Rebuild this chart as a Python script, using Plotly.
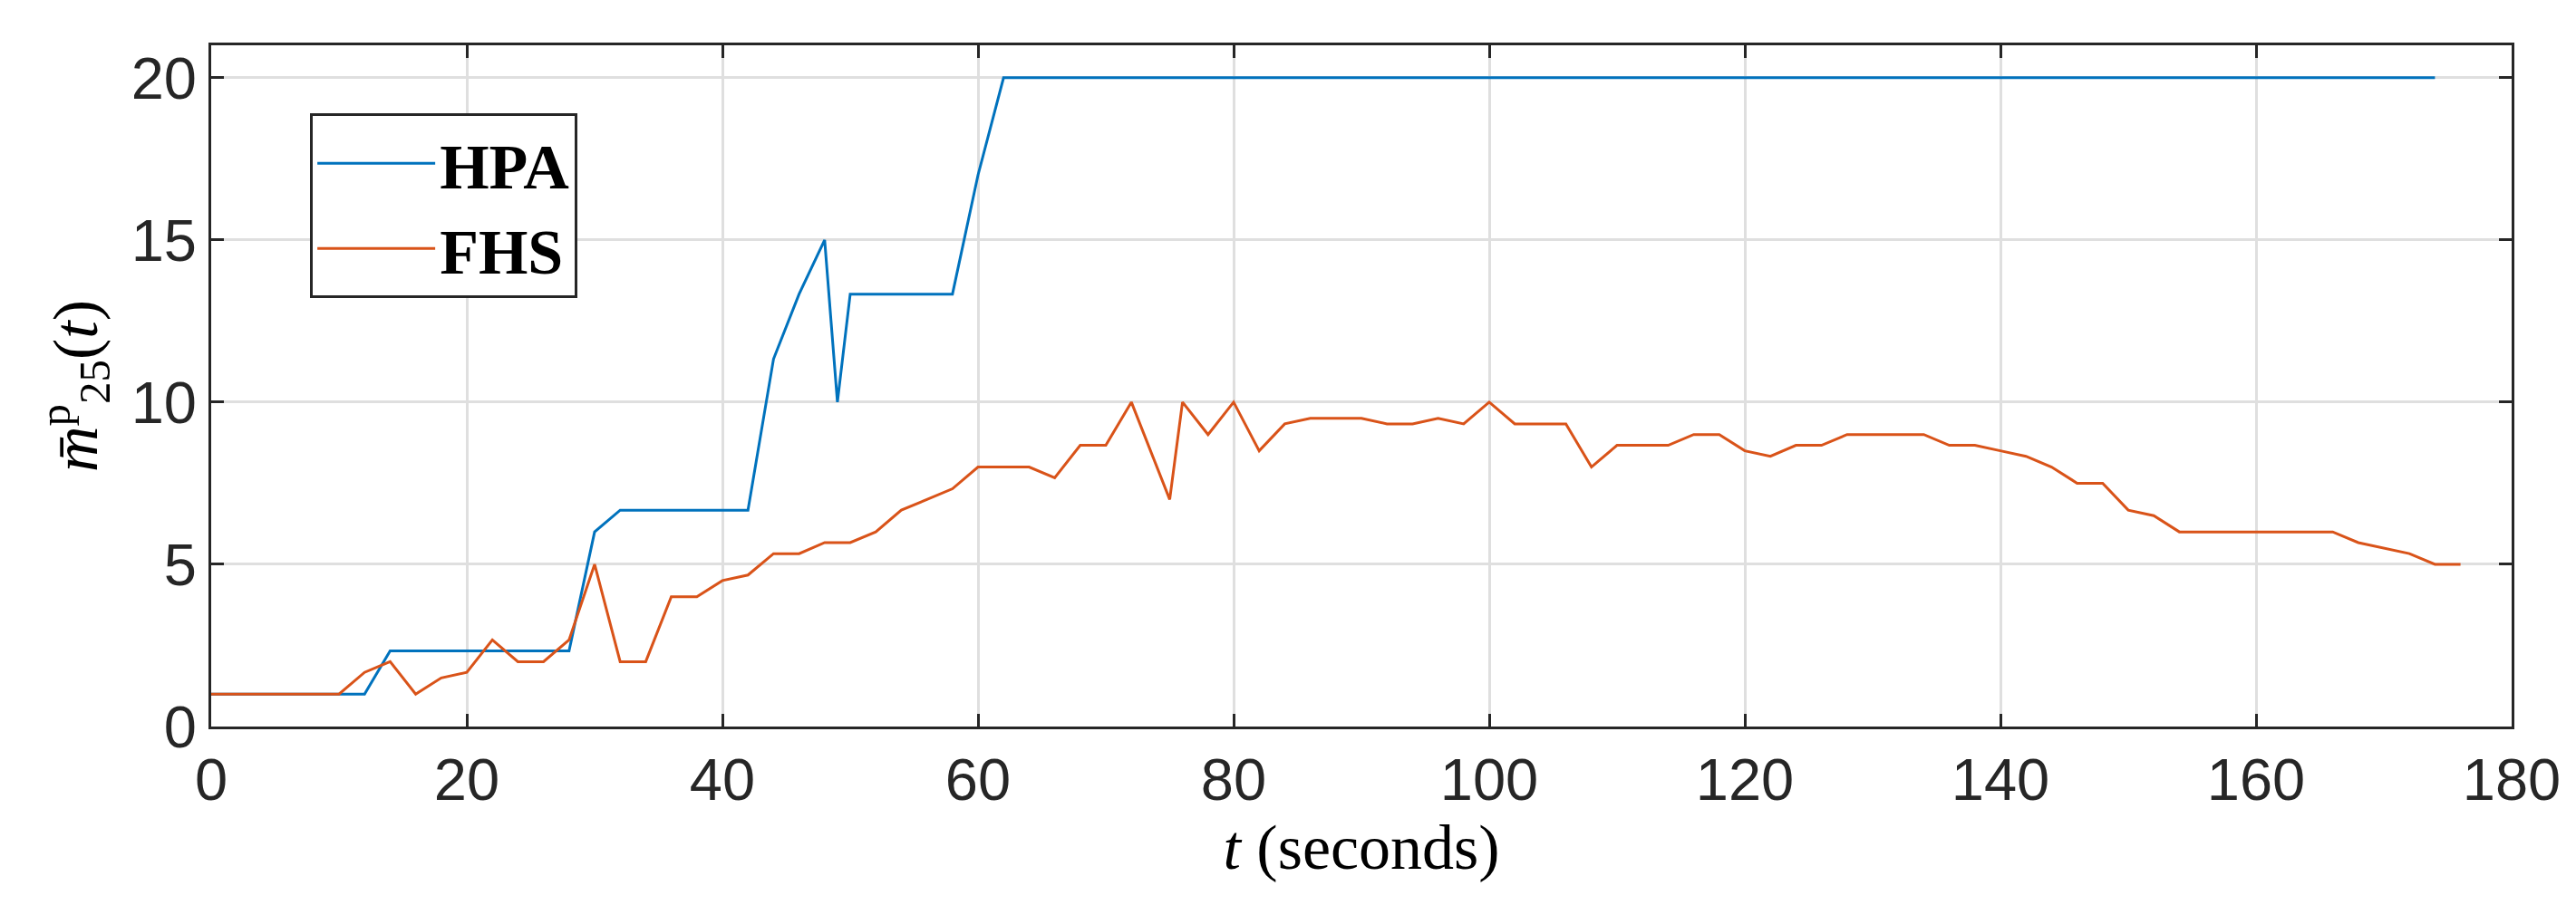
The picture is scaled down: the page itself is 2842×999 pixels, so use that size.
import plotly.graph_objects as go

hpa_t = [0,2,4,6,8,10,12,14,16,18,20,22,24,26,28,30,32,34,36,38,40,42,44,46,48,49,50,52,54,56,58,60,62,70,80,90,100,110,120,130,140,150,160,170,174]
hpa_v = [1,1,1,1,1,1,1,2.33,2.33,2.33,2.33,2.33,2.33,2.33,2.33,6,6.67,6.67,6.67,6.67,6.67,6.67,11.33,13.33,15,10,13.33,13.33,13.33,13.33,13.33,17,20,20,20,20,20,20,20,20,20,20,20,20,20]

fhs_t = [0,2,4,6,8,10,12,14,16,18,20,22,24,26,28,30,32,34,36,38,40,42,44,46,48,50,52,54,56,58,60,62,64,66,68,70,72,75,76,78,80,82,84,86,88,90,92,94,96,98,100,102,104,106,108,110,112,114,116,118,120,122,124,126,128,130,132,134,136,138,140,142,144,146,148,150,152,154,156,158,160,162,164,166,168,170,172,174,176]
fhs_v = [1,1,1,1,1,1,1.67,2,1,1.5,1.67,2.67,2,2,2.67,5,2,2,4,4,4.5,4.67,5.33,5.33,5.67,5.67,6,6.67,7,7.33,8,8,8,7.67,8.67,8.67,10,7,10,9,10,8.5,9.33,9.5,9.5,9.5,9.33,9.33,9.5,9.33,10,9.33,9.33,9.33,8,8.67,8.67,8.67,9,9,8.5,8.33,8.67,8.67,9,9,9,9,8.67,8.67,8.5,8.33,8,7.5,7.5,6.67,6.5,6,6,6,6,6,6,6,5.67,5.5,5.33,5,5]

x_ticks = [0,20,40,60,80,100,120,140,160,180]
y_ticks = [0,5,10,15,20]

fig = go.Figure()
fig.add_trace(go.Scatter(x=hpa_t, y=hpa_v, mode="lines", name="<b>HPA</b>", line=dict(color="#0072BD", width=3)))
fig.add_trace(go.Scatter(x=fhs_t, y=fhs_v, mode="lines", name="<b>FHS</b>", line=dict(color="#D95319", width=3)))

axcommon = dict(showline=True, linecolor="#262626", linewidth=3, mirror="ticks", ticks="inside",
                ticklen=14, tickwidth=3, tickcolor="#262626", showgrid=True, gridcolor="#DFDFDF",
                gridwidth=3, zeroline=False,
                tickfont=dict(family="Liberation Sans, Arial", size=65, color="#262626"))
fig.update_xaxes(range=[0,180], tickvals=x_ticks, **axcommon,
                 title=dict(text="<i>t</i> (seconds)", font=dict(family="Liberation Serif, Times New Roman", size=70, color="black"), standoff=10))
fig.update_yaxes(range=[0,21], tickvals=y_ticks, **axcommon,
                 title=dict(text="<i>m̄</i><sup>p</sup><sub>25</sub>(<i>t</i>)", font=dict(family="Liberation Serif, Times New Roman", size=70, color="black"), standoff=15))
fig.update_layout(width=2842, height=999, plot_bgcolor="white", paper_bgcolor="white",
                  margin=dict(l=225, r=79, t=42, b=205),
                  legend=dict(x=0.043, y=0.9, xanchor="left", yanchor="top", bgcolor="white",
                              bordercolor="#262626", borderwidth=3, itemwidth=130,
                              font=dict(family="Liberation Serif, Times New Roman", size=70, color="black")))
fig.write_html("out.html")
